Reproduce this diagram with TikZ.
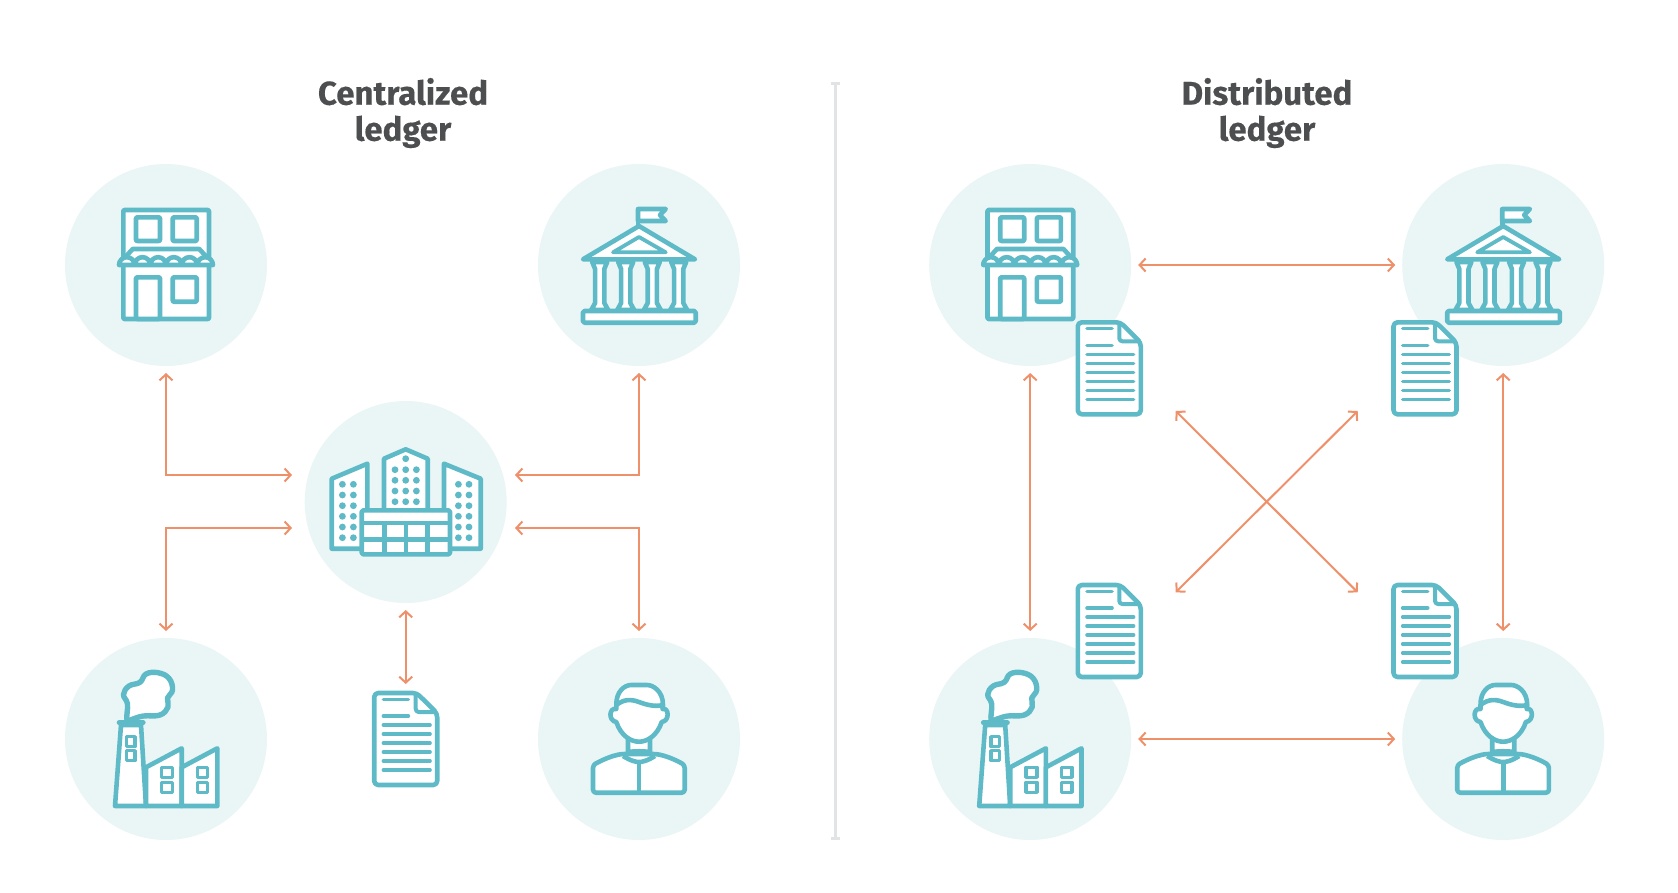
\documentclass[tikz,border=0pt]{standalone}
\usepackage{fontspec}
\setmainfont{Fira Sans}[BoldFeatures={FakeBold=0.35}]
\usetikzlibrary{arrows.meta}
\definecolor{iconteal}{HTML}{5FBAC7}
\definecolor{disctint}{HTML}{EAF5F6}
\definecolor{linkorange}{HTML}{EE9069}
\definecolor{titlegray}{HTML}{4D4E50}
\definecolor{rulegray}{HTML}{E1E3E4}
\tikzset{
    disc/.style={circle, fill=disctint, minimum size=202pt, inner sep=0pt, outer sep=7pt},
    pagebox/.style={rectangle, minimum width=67pt, minimum height=96pt, inner sep=0pt, outer sep=7pt},
    icon/.style={draw=iconteal, line width=4.6pt, line join=round, fill=white},
    thin icon/.style={draw=iconteal, line width=3.6pt, line cap=round},
    link/.style={draw=linkorange, line width=2pt, {Straight Barb[length=6pt,width=13pt]}-{Straight Barb[length=6pt,width=13pt]}},
    ledger title/.style={text=titlegray, font=\fontsize{33}{36}\selectfont\bfseries, align=center}
}
\newcommand{\storeicon}[2]{
    \begin{scope}[shift={(#1,#2)}]
        \draw[icon, rounded corners=1pt] (-42.7,-55) rectangle (43,54);
        \draw[icon, rounded corners=1pt] (-30,-47.7) rectangle (-6,-24);
        \draw[icon, rounded corners=1pt] (6.7,-47.7) rectangle (30.7,-24);
        \draw[icon, rounded corners=1pt] (-30,54) rectangle (-6,12.3);
        \draw[icon, rounded corners=1pt] (6.7,12.3) rectangle (30.7,36.7);
        \draw[icon] (-47,-1) -- (-33.3,-16) -- (33.3,-16) -- (47,-1) -- cycle;
        \draw[icon] (-47,0) arc[start angle=180, end angle=360, radius=7.83]
            arc[start angle=180, end angle=360, radius=7.83]
            arc[start angle=180, end angle=360, radius=7.83]
            arc[start angle=180, end angle=360, radius=7.83]
            arc[start angle=180, end angle=360, radius=7.83]
            arc[start angle=180, end angle=360, radius=7.83] -- cycle;
    \end{scope}
}
\newcommand{\bankcolumn}[1]{
    \draw[icon] (#1-7.5,-3) -- (#1-4.6,4) -- (#1-4.6,38) -- (#1-8.5,45) -- (#1+8.5,45) -- (#1+4.6,38) -- (#1+4.6,4) -- (#1+7.5,-3) -- cycle;
}
\newcommand{\bankicon}[2]{
    \begin{scope}[shift={(#1,#2)}]
        \draw[icon, fill=none] (-1,-40) -- (-1,-56);
        \draw[icon, fill=white] (-1,-56) -- (26.7,-56) -- (21,-50) -- (26.7,-44) -- (-1,-44) -- cycle;
        \bankcolumn{-39.3}
        \bankcolumn{-13.3}
        \bankcolumn{13.3}
        \bankcolumn{39.7}
        \draw[icon] (0,-39) -- (56,-5.7) -- (-56,-5.7) -- cycle;
        \draw[icon, line width=3.8pt] (0,-28) -- (26.7,-12.7) -- (-26,-12.7) -- cycle;
        \draw[icon, rounded corners=1.5pt] (-56,46) rectangle (56.7,57.7);
    \end{scope}
}
\newcommand{\hubicon}[2]{
    \begin{scope}[shift={(#1,#2)}]
        \draw[icon] (-74,-23.3) -- (-38.3,-38.3) -- (-38.3,46.7) -- (-74,46.7) -- cycle;
        \draw[icon] (75,-23.3) -- (38.3,-38.3) -- (38.3,46.7) -- (75,46.7) -- cycle;
        \draw[icon] (-21.7,-43.3) -- (0,-52.7) -- (22,-43.3) -- (22,10) -- (-21.7,10) -- cycle;
        \foreach \dy in {-17.7,-7,3.7,14.3,25,35.7} {
            \fill[iconteal] (-63.3,\dy) circle (3.4);
            \fill[iconteal] (-52.3,\dy) circle (3.4);
            \fill[iconteal] (52.7,\dy) circle (3.4);
            \fill[iconteal] (63.3,\dy) circle (3.4);
        }
        \fill[iconteal] (0,-43.3) circle (3.4);
        \foreach \dy in {-32.3,-21.7,-11,-0.3} {
            \fill[iconteal] (-10.7,\dy) circle (3.4);
            \fill[iconteal] (0,\dy) circle (3.4);
            \fill[iconteal] (10.7,\dy) circle (3.4);
        }
        \draw[icon, rounded corners=1.5pt] (-44,8.3) rectangle (44.3,52.3);
        \draw[icon, fill=none] (-44,21) -- (44.3,21);
        \draw[icon, fill=none] (-44,37.3) -- (44.3,37.3);
        \draw[icon, fill=none] (-21.3,21) -- (-21.3,52.3);
        \draw[icon, fill=none] (0.3,21) -- (0.3,52.3);
        \draw[icon, fill=none] (22,21) -- (22,52.3);
    \end{scope}
}
\newcommand{\factoryicon}[2]{
    \begin{scope}[shift={(#1,#2)}]
        \draw[icon, line width=5.4pt] plot[smooth cycle, tension=0.7] coordinates {
            (-39,-19) (-38.5,-35) (-42.5,-44.5) (-37,-53) (-26,-56.7) (-20,-65) (-8,-66.3)
            (3,-60.7) (6.5,-49) (1.5,-41) (2,-32) (-6,-24) (-22.7,-23) (-33,-20)};
        \draw[icon] (-45,-14) -- (-25,-14) -- (-20,67) -- (-51,67) -- cycle;
        \draw[icon, line cap=round] (-47,-16.3) -- (-22.7,-16.3);
        \draw[icon] (-20,28.3) -- (15.7,9.3) -- (15.7,67) -- (-20,67) -- cycle;
        \draw[icon] (15.7,28.3) -- (51.3,9.3) -- (51.3,67) -- (15.7,67) -- cycle;
        \draw[icon, line width=3.4pt, fill=none] (-39.3,-2.3) rectangle (-31,7.7);
        \draw[icon, line width=3.4pt, fill=none] (-39.3,11.7) rectangle (-31,21.7);
        \draw[icon, line width=3.4pt, fill=none] (-4.3,28.3) rectangle (6.7,38.3);
        \draw[icon, line width=3.4pt, fill=none] (-4.3,43.3) rectangle (6.7,53.3);
        \draw[icon, line width=3.4pt, fill=none] (31.3,28.3) rectangle (41.7,38.3);
        \draw[icon, line width=3.4pt, fill=none] (31.3,43.3) rectangle (41.7,53.3);
    \end{scope}
}
\newcommand{\personicon}[2]{
    \begin{scope}[shift={(#1,#2)}]
        \draw[icon, rounded corners=3pt] (-46,53.7) -- (-46,26) .. controls (-35,20) and (-27,17) .. (-17.7,15) -- (17.3,15)
            .. controls (27,17) and (35,20) .. (45.7,26) -- (45.7,53.7) -- cycle;
        \draw[icon] (-11,0) -- (-11,13) .. controls (-4,12) and (4,12) .. (11,13) -- (11,0);
        \draw[icon, fill=none] (-16,17) .. controls (-8,22) and (-3,23) .. (0,23) .. controls (3,23) and (8,22) .. (16,17);
        \draw[icon, fill=none] (0,23) -- (0,53.7);
        \draw[icon] (-22.7,-30) .. controls (-30,-32) and (-31,-18) .. (-22.7,-17)
            .. controls (-18,-3) and (-8,2.7) .. (0,2.7) .. controls (8,2.7) and (18,-3) .. (22.7,-17)
            .. controls (31,-18) and (30,-32) .. (23.5,-30) -- (24,-34)
            .. controls (24,-48) and (14,-54) .. (8,-54) -- (-8,-54)
            .. controls (-14,-54) and (-23,-48) .. (-22.7,-34) -- cycle;
        \draw[icon, fill=none] (-22.7,-34) .. controls (-15,-40) and (-8,-40) .. (0,-37)
            .. controls (8,-34) and (16,-32) .. (24,-34);
    \end{scope}
}
\newcommand{\pageicon}[2]{
    \begin{scope}[shift={(#1,#2)}]
        \draw[icon, rounded corners=4pt] (-31.5,-46) -- (11,-46) -- (31.5,-25.7) -- (31.5,46) -- (-31.5,46) -- cycle;
        \draw[icon, line width=4pt, rounded corners=3pt, fill=none] (10,-45) -- (10,-27) -- (31,-27);
        \draw[thin icon] (-22.3,-39.7) -- (2.7,-39.7);
        \draw[thin icon] (-22.3,-23) -- (2.7,-23);
        \foreach \ly in {-14,-5,4,13,22,31} {
            \draw[thin icon] (-22.3,\ly) -- (24.3,\ly);
        }
    \end{scope}
}
\begin{document}
\begin{tikzpicture}[x=1pt, y=-1pt]
        \useasboundingbox (0,0) rectangle (1678,892);
        % titles and the rule between the two halves
        \node[ledger title] (titlecentral) at (403,113) {Centralized\\ledger};
        \node[ledger title] (titledistrib) at (1267,113) {Distributed\\ledger};
        \coordinate (ruletop) at (835.5,82);
        \coordinate (rulebottom) at (835.5,840);
        \draw[rulegray, line width=3pt, {Bar[width=9pt,length=1pt]}-{Bar[width=9pt,length=1pt]}] (ruletop) -- (rulebottom);
        % centralized
        \node[disc] (store) at (166,265) {};
        \node[disc] (bank) at (639,265) {};
        \node[disc] (hub) at (405.7,502) {};
        \node[disc] (factory) at (166,739) {};
        \node[disc] (person) at (639,739) {};
        \node[pagebox] (page) at (405.7,739) {};
        \coordinate (hubnw) at (292,475);
        \coordinate (hubsw) at (292,528);
        \coordinate (hubne) at (515,475);
        \coordinate (hubse) at (515,528);
        \draw[link] (store.south) |- (hubnw);
        \draw[link] (factory.north) |- (hubsw);
        \draw[link] (bank.south) |- (hubne);
        \draw[link] (person.north) |- (hubse);
        \draw[link] (hub.south) -- (page.north);
        \storeicon{166}{265}
        \bankicon{639}{265}
        \hubicon{405.7}{502}
        \factoryicon{166}{739}
        \personicon{639}{739}
        \pageicon{405.7}{739}
        % distributed
        \node[disc] (storeb) at (1030.2,265) {};
        \node[disc] (bankb) at (1503.2,265) {};
        \node[disc] (factoryb) at (1030.2,739) {};
        \node[disc] (personb) at (1503.2,739) {};
        \coordinate (crossnw) at (1175.7,411);
        \coordinate (crossne) at (1357.7,411);
        \coordinate (crosssw) at (1175.7,592.3);
        \coordinate (crossse) at (1357.7,592.3);
        \draw[link] (storeb) -- (bankb);
        \draw[link] (factoryb) -- (personb);
        \draw[link] (storeb) -- (factoryb);
        \draw[link] (bankb) -- (personb);
        \draw[link] (crossnw) -- (crossse);
        \draw[link] (crossne) -- (crosssw);
        \storeicon{1030.2}{265}
        \bankicon{1503.2}{265}
        \factoryicon{1030.2}{739}
        \personicon{1503.2}{739}
        \pageicon{1109.3}{368.3}
        \pageicon{1425}{368.3}
        \pageicon{1109.3}{631}
        \pageicon{1425}{631}
\end{tikzpicture}
\end{document}
